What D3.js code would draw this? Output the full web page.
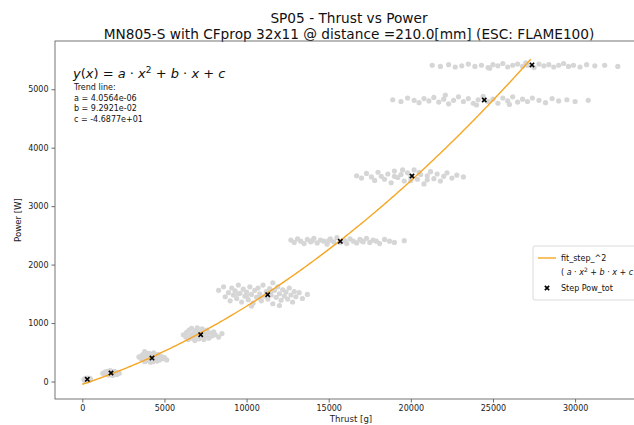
<!DOCTYPE html>
<html>
<head>
<meta charset="utf-8">
<script src="https://cdn.jsdelivr.net/npm/d3@7"></script>
<style>
  html, body { margin: 0; padding: 0; background: #fff; }
  svg { display: block; font-family: "DejaVu Sans", sans-serif; }
</style>
</head>
<body>
<svg id="chart" width="634" height="425"></svg>
<script>
// Step means (marker positions)
const stepThrust = [304, 1747, 4243, 7208, 11286, 15706, 20070, 24470, 27375];
const stepPower  = [38, 146, 401, 801, 1485, 2399, 3516, 4816, 5415];

// Raw samples of each step: [thrust, power]
const cloud1 = [[100,30],[180,10],[220,55],[260,25],[300,45],[340,15],[380,50],[420,30],[460,20],[500,45],[240,40],[320,60],[360,30],[150,45],[440,55],[280,5],[400,40],[200,30]];
const cloud2 = [[1250,140],[1350,120],[1400,165],[1500,130],[1550,175],[1600,110],[1650,150],[1700,185],[1750,125],[1800,160],[1850,105],[1900,145],[1950,175],[2000,130],[2050,155],[2100,120],[2150,150],[2250,140],[1450,145],[1700,140],[1850,140],[2000,160]];
const cloud3 = [[3450,420],[3600,380],[3650,450],[3750,410],[3800,340],[3850,470],[3900,390],[3950,430],[4000,360],[4050,480],[4100,410],[4150,330],[4200,450],[4250,380],[4300,420],[4350,490],[4400,360],[4450,440],[4500,400],[4550,350],[4600,460],[4650,410],[4700,370],[4800,430],[4900,390],[5000,410],[5140,370],[4100,470],[4300,340],[3700,460],[3800,510],[4000,420],[4500,420]];
const cloud4 = [[6150,800],[6300,760],[6350,840],[6450,720],[6500,880],[6600,790],[6650,910],[6700,740],[6800,830],[6850,700],[6900,870],[6950,780],[7000,920],[7050,810],[7100,730],[7200,860],[7250,770],[7300,900],[7350,820],[7400,720],[7450,850],[7550,790],[7600,880],[7700,740],[7800,830],[7900,780],[8000,850],[8100,800],[8300,760],[8500,820],[6700,810],[7150,790],[7500,810]];
const cloud5 = [[8300,1560],[8600,1620],[8700,1450],[8900,1520],[9000,1380],[9100,1600],[9200,1480],[9300,1550],[9400,1420],[9500,1650],[9600,1510],[9700,1360],[9800,1580],[9900,1460],[10000,1530],[10100,1400],[10200,1620],[10300,1490],[10400,1340],[10500,1560],[10600,1440],[10700,1600],[10800,1500],[10900,1380],[11000,1650],[11100,1460],[11200,1540],[11300,1410],[11400,1590],[11500,1480],[11600,1330],[11700,1560],[11800,1440],[11900,1620],[12000,1500],[12100,1390],[12200,1570],[12300,1460],[12400,1530],[12500,1410],[12600,1600],[12700,1480],[12800,1360],[12900,1540],[13000,1450],[13200,1520],[13400,1420],[13700,1490],[10300,1290],[11600,1690],[9500,1500],[12000,1300],[10800,1430],[11500,1550],[10000,1470]];
const cloud6 = [[12700,2420],[12900,2380],[13100,2440],[13300,2400],[13500,2360],[13700,2430],[13900,2390],[14100,2450],[14300,2370],[14500,2420],[14700,2400],[14900,2350],[15100,2440],[15300,2390],[15500,2460],[15700,2380],[15900,2420],[16100,2360],[16300,2440],[16500,2400],[16700,2370],[16900,2430],[17100,2390],[17300,2450],[17500,2380],[17700,2420],[17900,2400],[18100,2360],[18400,2430],[18700,2400],[19000,2380],[19600,2410],[14000,2410],[15000,2410],[16000,2400],[17000,2410]];
const cloud7 = [[16700,3520],[17000,3480],[17300,3560],[17600,3500],[17800,3440],[18000,3580],[18200,3510],[18400,3460],[18600,3550],[18800,3400],[19000,3600],[19200,3490],[19400,3540],[19600,3430],[19800,3570],[20000,3500],[20200,3620],[20400,3460],[20600,3540],[20800,3380],[21000,3520],[21200,3590],[21400,3470],[21600,3550],[21800,3430],[22000,3510],[22200,3570],[22500,3480],[22800,3530],[23200,3500],[19000,3510],[20000,3440],[21000,3450],[19500,3620],[20500,3580]];
const cloud8 = [[18900,4820],[19400,4790],[19800,4850],[20200,4810],[20500,4770],[20800,4840],[21100,4800],[21400,4860],[21700,4780],[22000,4830],[22300,4750],[22600,4810],[22900,4870],[23200,4790],[23500,4840],[23800,4760],[24100,4820],[24400,4880],[24700,4790],[25000,4830],[25300,4760],[25600,4850],[25900,4800],[26200,4870],[26500,4780],[26800,4830],[27100,4790],[27400,4850],[27800,4810],[28200,4770],[28600,4840],[29000,4800],[29500,4820],[30000,4790],[30800,4810],[22100,4900],[24000,4730],[26000,4740]];
const cloud9 = [[21300,5410],[21800,5390],[22300,5420],[22700,5380],[23100,5400],[23500,5430],[23900,5390],[24300,5410],[24700,5370],[25000,5420],[25300,5400],[25600,5440],[25900,5380],[26200,5410],[26500,5430],[26800,5390],[27100,5410],[27500,5370],[27800,5430],[28100,5400],[28400,5420],[28700,5380],[29000,5410],[29300,5440],[29600,5390],[29900,5410],[30300,5380],[30700,5420],[31200,5400],[31800,5410],[32600,5390],[24800,5360],[27000,5450]];
const clouds = [cloud1, cloud2, cloud3, cloud4, cloud5, cloud6, cloud7, cloud8, cloud9];

// Quadratic trend line coefficients
const fitA = 4.0564e-06;
const fitB = 9.2921e-02;
const fitC = -4.6877e+01;

const xTicks = [0, 5000, 10000, 15000, 20000, 25000, 30000];
const yTicks = [0, 1000, 2000, 3000, 4000, 5000];

const titleLines = ["SP05 - Thrust vs Power", "MN805-S with CFprop 32x11 @ distance =210.0[mm] (ESC: FLAME100)"];

const svg = d3.select("#chart");
const plotLeft = 55, plotRight = 647, plotTop = 41, plotBottom = 399;

const x = d3.scaleLinear().domain([-1662, 34377]).range([plotLeft, plotRight]);
const y = d3.scaleLinear().domain([-299, 5825]).range([plotBottom, plotTop]);
const midX = (plotLeft + plotRight) / 2;

// title
svg.append("g").selectAll("text").data(titleLines).join("text")
  .attr("x", midX - 2).attr("y", (d, i) => 23 + i * 16)
  .attr("text-anchor", "middle").attr("font-size", 13.7).attr("fill", "#111")
  .text(d => d);

// scatter samples
const plot = svg.append("g");
plot.selectAll("g.cloud").data(clouds).join("g").attr("class", "cloud")
  .selectAll("circle").data(d => d).join("circle")
  .attr("cx", d => x(d[0])).attr("cy", d => y(d[1]))
  .attr("r", 2.6).attr("fill", "#d6d6d6");

// trend line
const fitX = d3.range(0, stepThrust[stepThrust.length - 1] + 1, 100);
const fitLine = d3.line().x(d => x(d)).y(d => y(fitA * d * d + fitB * d + fitC));
plot.append("path").datum(fitX).attr("d", fitLine)
  .attr("fill", "none").attr("stroke", "#f5a623").attr("stroke-width", 1.4);

// step markers
plot.selectAll("path.step").data(stepThrust).join("path").attr("class", "step")
  .attr("transform", (d, i) => `translate(${x(d)},${y(stepPower[i])})`)
  .attr("d", d3.symbol(d3.symbolX, 14)())
  .attr("fill", "none").attr("stroke", "#000").attr("stroke-width", 1.6);

// axes
const xAxis = svg.append("g").attr("transform", `translate(0,${plotBottom})`)
  .call(d3.axisBottom(x).tickValues(xTicks).tickSize(3.5).tickPadding(3).tickFormat(d3.format("d")));
const yAxis = svg.append("g").attr("transform", `translate(${plotLeft},0)`)
  .call(d3.axisLeft(y).tickValues(yTicks).tickSize(3.5).tickPadding(3).tickFormat(d3.format("d")));
[xAxis, yAxis].forEach(a => {
  a.select(".domain").remove();
  a.selectAll("line").attr("stroke", "#444").attr("stroke-width", 0.8);
  a.selectAll("text").attr("font-size", 8).attr("fill", "#222").attr("font-family", "DejaVu Sans");
});

// frame
svg.append("rect").attr("x", plotLeft).attr("y", plotTop)
  .attr("width", plotRight - plotLeft).attr("height", plotBottom - plotTop)
  .attr("fill", "none").attr("stroke", "#666").attr("stroke-width", 0.9);

// axis titles
svg.append("text").attr("x", midX).attr("y", 422).attr("text-anchor", "middle")
  .attr("font-size", 8.6).attr("fill", "#222").text("Thrust [g]");
svg.append("text").attr("transform", `translate(21,${(plotTop + plotBottom) / 2}) rotate(-90)`)
  .attr("text-anchor", "middle").attr("font-size", 8.6).attr("fill", "#222").text("Power [W]");

// equation and coefficients
const eq = svg.append("text").attr("x", 73).attr("y", 78).attr("font-size", 13).attr("fill", "#111");
const parts = [["y", true], ["(", false], ["x", true], [") = ", false], ["a", true], [" · ", false], ["x", true],
  ["2", false, true], [" + ", false], ["b", true], [" · ", false], ["x", true], [" + ", false], ["c", true]];
parts.forEach((p, i) => {
  const t = eq.append("tspan").text(p[0]).attr("font-style", p[1] ? "italic" : "normal");
  if (p[2]) t.attr("font-size", 9).attr("dy", -5);
  if (i === 8) t.attr("dy", 5);
});
const sci = v => v.toExponential(4).replace(/e([+-])(\d)$/, "e$10$2");
const coefLines = ["Trend line:", "a = " + sci(fitA), "b = " + sci(fitB), "c = " + sci(fitC)];
svg.append("g").selectAll("text").data(coefLines).join("text")
  .attr("x", 74).attr("y", (d, i) => 90 + i * 10.6).attr("font-size", 8).attr("fill", "#111").text(d => d);

// legend
const lg = svg.append("g").attr("transform", "translate(533,246)");
lg.append("rect").attr("width", 125).attr("height", 54).attr("rx", 2)
  .attr("fill", "#fff").attr("fill-opacity", 0.8).attr("stroke", "#d0d0d0").attr("stroke-width", 0.8);
lg.append("line").attr("x1", 5).attr("x2", 23).attr("y1", 12).attr("y2", 12)
  .attr("stroke", "#f5a623").attr("stroke-width", 1.4);
lg.append("text").attr("x", 28).attr("y", 15).attr("font-size", 8).attr("fill", "#111").text("fit_step_^2");
const l2 = lg.append("text").attr("x", 28).attr("y", 29).attr("font-size", 8).attr("fill", "#111");
l2.append("tspan").text("( ");
[["a", true], [" · ", false], ["x", true], ["2", false, true], [" + ", false], ["b", true], [" · ", false], ["x", true], [" + ", false], ["c", true], [" )", false]]
  .forEach((p, i) => {
    const t = l2.append("tspan").text(p[0]).attr("font-style", p[1] ? "italic" : "normal");
    if (p[2]) t.attr("font-size", 6).attr("dy", -3);
    if (i === 4) t.attr("dy", 3);
  });
lg.append("path").attr("transform", "translate(14,42)").attr("d", d3.symbol(d3.symbolX, 14)())
  .attr("fill", "none").attr("stroke", "#000").attr("stroke-width", 1.6);
lg.append("text").attr("x", 28).attr("y", 45).attr("font-size", 8).attr("fill", "#111").text("Step Pow_tot");
</script>
</body>
</html>
